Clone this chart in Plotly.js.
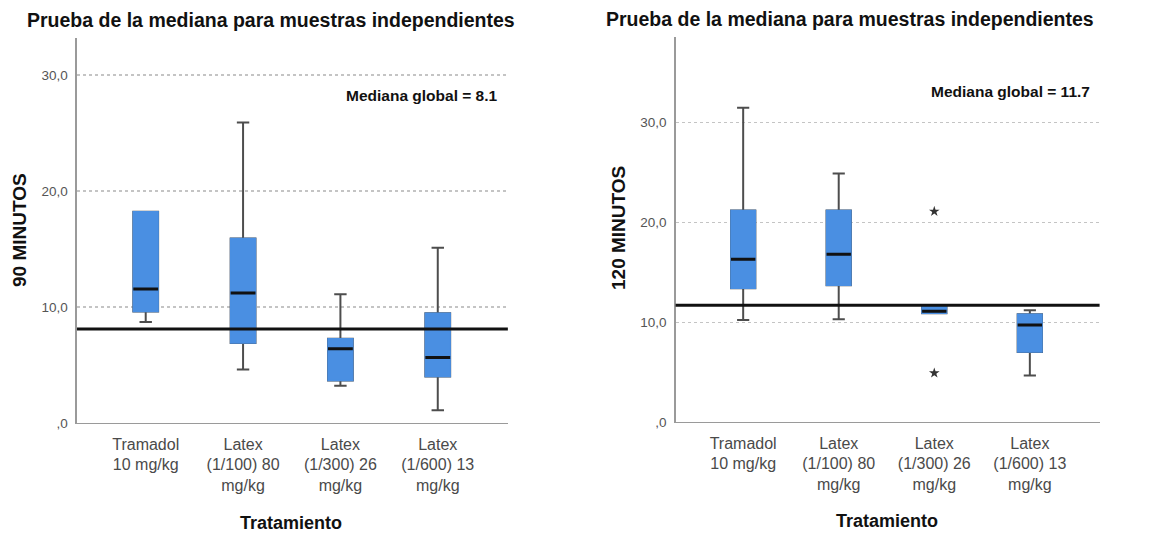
<!DOCTYPE html>
<html>
<head>
<meta charset="utf-8">
<script src="https://cdn.plot.ly/plotly-3.0.1.min.js"></script>
<style>html,body{margin:0;padding:0;background:#fff}#chart{width:1149px;height:534px}</style>
</head>
<body>
<div id="chart"></div>
<script>
// Categories and tick labels
const categories = ["Tramadol 10 mg/kg", "Latex (1/100) 80 mg/kg", "Latex (1/300) 26 mg/kg", "Latex (1/600) 13 mg/kg"];
const xTickLabels = ["Tramadol<br>10 mg/kg", "Latex<br>(1/100) 80<br>mg/kg", "Latex<br>(1/300) 26<br>mg/kg", "Latex<br>(1/600) 13<br>mg/kg"];
const yTickVals = [0, 10, 20, 30];
const yTickText = [",0", "10,0", "20,0", "30,0"];

// 90 minutos
const min90_lower = [8.7, 4.6, 3.2, 1.1];
const min90_q1 = [9.6, 6.9, 3.65, 4.0];
const min90_median = [11.55, 11.2, 6.4, 5.65];
const min90_q3 = [18.2, 15.9, 7.25, 9.45];
const min90_upper = [18.2, 25.9, 11.1, 15.1];
const min90_outliersX = [];
const min90_outliersY = [];

// 120 minutos
const min120_lower = [10.2, 10.3, 10.9, 4.65];
const min120_q1 = [13.4, 13.7, 10.9, 7.0];
const min120_median = [16.3, 16.8, 11.1, 9.7];
const min120_q3 = [21.2, 21.2, 11.6, 10.8];
const min120_upper = [31.5, 24.9, 11.6, 11.2];
const min120_outliersX = [categories[2], categories[2]];
const min120_outliersY = [21.1, 4.9];

const globalMedians = [8.1, 11.7];
const panelTitles = ["Prueba de la mediana para muestras independientes", "Prueba de la mediana para muestras independientes"];
const yTitles = ["90 MINUTOS", "120 MINUTOS"];
const xTitle = "Tratamiento";

const BLUE = "#4a8fe2";
const W = 0.255;
const FONT = "Liberation Sans, Arial, sans-serif";

function panelTraces(lower, q1, med, q3, upper, ox, oy, xa, ya) {
  return [
    { type: "box", x: categories, q1: q1, median: med, q3: q3, lowerfence: lower, upperfence: upper,
      width: W, whiskerwidth: 0.5, fillcolor: BLUE, line: { color: "#4d4d4d", width: 2 },
      boxpoints: false, xaxis: xa, yaxis: ya, hoverinfo: "skip", showlegend: false },
    { type: "box", x: categories, q1: q1, median: med, q3: q3, lowerfence: q1, upperfence: q3,
      width: W, whiskerwidth: 0, fillcolor: BLUE, line: { color: BLUE, width: 1.5 },
      boxpoints: false, xaxis: xa, yaxis: ya, hoverinfo: "skip", showlegend: false },
    { type: "box", x: categories, q1: med, median: med, q3: med, lowerfence: med, upperfence: med,
      width: W, whiskerwidth: 0, fillcolor: "rgba(0,0,0,0)", line: { color: "#111", width: 3 },
      boxpoints: false, xaxis: xa, yaxis: ya, hoverinfo: "skip", showlegend: false },
    { type: "scatter", mode: "markers", x: ox, y: oy, xaxis: xa, yaxis: ya,
      marker: { symbol: "star", size: 8, color: "#333" }, showlegend: false, hoverinfo: "skip" }
  ];
}

const data = []
  .concat(panelTraces(min90_lower, min90_q1, min90_median, min90_q3, min90_upper, min90_outliersX, min90_outliersY, "x", "y"))
  .concat(panelTraces(min120_lower, min120_q1, min120_median, min120_q3, min120_upper, min120_outliersX, min120_outliersY, "x2", "y2"));

const xBase = {
  type: "category", categoryorder: "array", categoryarray: categories,
  tickvals: categories, ticktext: xTickLabels, showgrid: false, zeroline: false,
  showline: true, linecolor: "#9a9a9a", linewidth: 1.5, ticks: "", ticklen: 0,
  ticklabelstandoff: 6,
  tickfont: { family: FONT, size: 16, color: "#4a4a4a" },
  fixedrange: true
};
const yBase = {
  tickvals: yTickVals, ticktext: yTickText, showgrid: true, gridcolor: "#c4c4c4", griddash: "dot", gridwidth: 1.2,
  zeroline: false, showline: true, linecolor: "#9a9a9a", linewidth: 1.5, ticks: "",
  ticklabelstandoff: 5,
  tickfont: { family: FONT, size: 13.5, color: "#555" },
  fixedrange: true
};

const titleFont = { family: FONT, size: 19.5, color: "#111", weight: "bold" };
const axTitleFont = { family: FONT, size: 19, color: "#111", weight: "bold" };
const xTitleFont = { family: FONT, size: 18, color: "#111", weight: "bold" };
const medFont = { family: FONT, size: 15.5, color: "#111", weight: "bold" };
const layout = {
  width: 1149, height: 534,
  margin: { l: 0, r: 0, t: 0, b: 0 },
  paper_bgcolor: "#fff", plot_bgcolor: "#fff",
  boxmode: "overlay",
  xaxis: Object.assign({}, xBase, { domain: [0.067, 0.442], range: [-0.706, 3.72], anchor: "y" }),
  yaxis: Object.assign({}, yBase, { domain: [0.208, 0.929], range: [0, 33.2], anchor: "x" }),
  xaxis2: Object.assign({}, xBase, { domain: [0.588, 0.957], range: [-0.707, 3.73], anchor: "y2" }),
  yaxis2: Object.assign({}, yBase, { domain: [0.21, 0.931], range: [0, 38.6], anchor: "x2" }),
  shapes: [
    { type: "line", xref: "x domain", yref: "y", x0: 0, x1: 1, y0: globalMedians[0], y1: globalMedians[0], line: { color: "#111", width: 3 } },
    { type: "line", xref: "x2 domain", yref: "y2", x0: 0, x1: 1, y0: globalMedians[1], y1: globalMedians[1], line: { color: "#111", width: 3 } }
  ],
  annotations: [
    { text: panelTitles[0], xref: "paper", yref: "paper", x: 271 / 1149, y: 1 - 20 / 534, showarrow: false, xanchor: "center", yanchor: "middle", font: titleFont },
    { text: panelTitles[1], xref: "paper", yref: "paper", x: 850 / 1149, y: 1 - 19 / 534, showarrow: false, xanchor: "center", yanchor: "middle", font: titleFont },
    { text: yTitles[0], xref: "paper", yref: "paper", x: 20 / 1149, y: 1 - 230 / 534, textangle: -90, showarrow: false, xanchor: "center", yanchor: "middle", font: axTitleFont },
    { text: yTitles[1], xref: "paper", yref: "paper", x: 619 / 1149, y: 1 - 228 / 534, textangle: -90, showarrow: false, xanchor: "center", yanchor: "middle", font: axTitleFont },
    { text: xTitle, xref: "paper", yref: "paper", x: 291 / 1149, y: 1 - 523 / 534, showarrow: false, xanchor: "center", yanchor: "middle", font: xTitleFont },
    { text: xTitle, xref: "paper", yref: "paper", x: 887 / 1149, y: 1 - 521 / 534, showarrow: false, xanchor: "center", yanchor: "middle", font: xTitleFont },
    { text: "Mediana global = " + globalMedians[0], xref: "paper", yref: "paper", x: 500 / 1149, y: 1 - 95 / 534, showarrow: false, xanchor: "right", yanchor: "middle", font: medFont },
    { text: "Mediana global = " + globalMedians[1], xref: "paper", yref: "paper", x: 1092 / 1149, y: 1 - 92 / 534, showarrow: false, xanchor: "right", yanchor: "middle", font: medFont }
  ]
};

Plotly.newPlot("chart", data, layout, { displayModeBar: false, staticPlot: true });
</script>
</body>
</html>
